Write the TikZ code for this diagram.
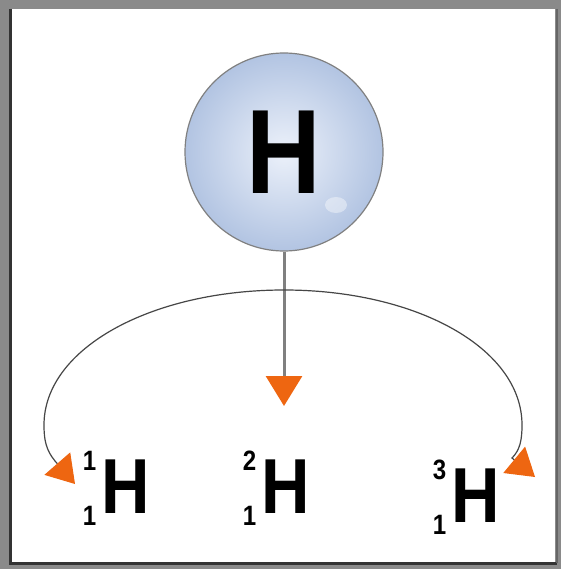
\documentclass[tikz,border=0pt]{standalone}
\usepackage{fontspec}
\setmainfont{Liberation Sans}
\newfontfamily\narrow{Liberation Sans}[FakeStretch=0.86]
\usetikzlibrary{arrows.meta}

\definecolor{frame}{RGB}{138,138,138}
\definecolor{atomin}{RGB}{236,241,250}
\definecolor{atomout}{RGB}{178,196,226}
\definecolor{tip}{RGB}{238,102,17}

% mass number on top, atomic number below, then the symbol
\newcommand\nuclide[2]{%
{\fontsize{28}{28}\selectfont
\raisebox{43pt}{\makebox[16pt][r]{#1}}\kern-16pt
\raisebox{-12pt}{\makebox[16pt][r]{#2}}}%
\kern5pt{\fontsize{78}{78}\selectfont H}}

\begin{document}
\begin{tikzpicture}[
x=1pt, y=-1pt,
atom/.style={
circle,
draw=gray,
line width=1.2pt,
inner color=atomin,
outer color=atomout,
minimum size=198pt,
font=\narrow\bfseries\fontsize{120}{120}\selectfont
},
isotope/.style={
anchor=base east,
inner sep=0pt,
font=\narrow\bfseries
},
split/.style={
draw={rgb,255:red,70;green,70;blue,70},
line width=1.2pt
}
]

% frame
\fill[frame] (0,0) rectangle (561,569);
\fill[white] (12,9) rectangle (555,562);
\draw[black!80, line width=3pt] (10,9) -- (10,565);
\draw[black!80, line width=2.5pt] (9,563.5) -- (557,563.5);
\draw[black!60, line width=2pt] (556.5,9) -- (556.5,563);

\node[atom] (H) at (284,152) {H};
\fill[white, opacity=0.4] (336,205) ellipse (11 and 8);

\node[isotope] (H1) at (150,513) {\nuclide{1}{1}};
\node[isotope] (H2) at (310,513) {\nuclide{2}{1}};
\node[isotope] (H3) at (500,522) {\nuclide{3}{1}};

\coordinate (down) at (284,406);
\coordinate (left) at (75,484);
\coordinate (right) at (535,477);

\draw[gray, line width=3pt,
-{Triangle[width=36pt,length=30pt,color=tip]}] (H) -- (down);

\draw[split,
{Triangle[width=34pt,length=27pt,color=tip]}-{Triangle[width=34pt,length=27pt,color=tip]}]
(left) -- (55,461)
.. controls (46,450) and (44,440) .. (44,425)
.. controls (44,348) and (152,290) .. (284,290)
.. controls (416,290) and (522,348) .. (522,425)
.. controls (522,440) and (520,450) .. (512,458)
-- (right);

\end{tikzpicture}
\end{document}
